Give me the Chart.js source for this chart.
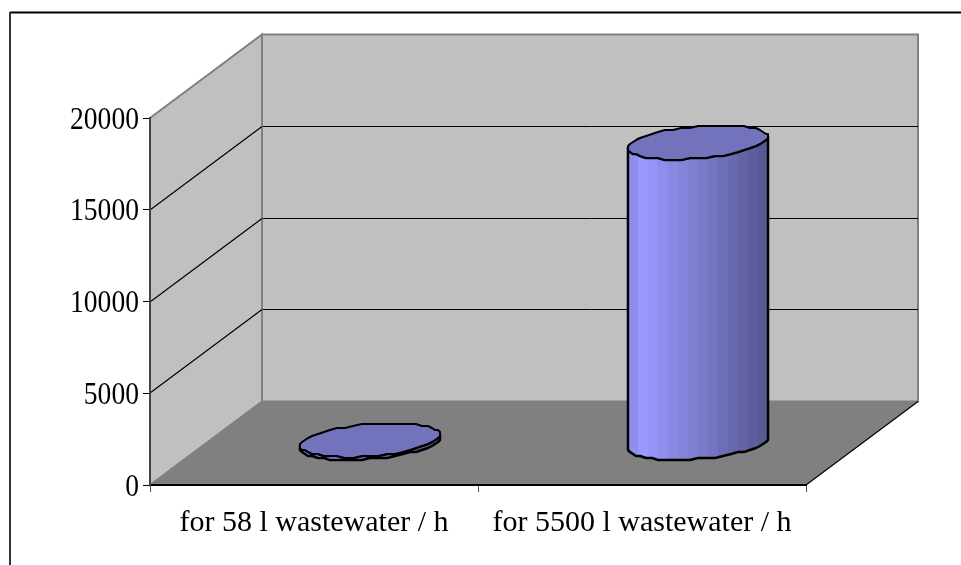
<!DOCTYPE html>
<html>
<head>
<meta charset="utf-8">
<style>
    html, body { margin: 0; padding: 0; background: #fff; }
    canvas { display: block; }
</style>
<script src="https://cdn.jsdelivr.net/npm/chart.js@4"></script>
</head>
<body>
<canvas id="chart" width="961" height="565"></canvas>
<script>
const categories = ['for 58 l wastewater / h', 'for 5500 l wastewater / h'];
const values = [173, 16400];
const yTicks = [0, 5000, 10000, 15000, 20000];

// how far the back wall sits behind the front plane
const depthX = 112;
const depthY = 83.5;

function polygon(ctx, points, fill, stroke, width) {
    ctx.beginPath();
    points.forEach(function (p, i) {
        if (i === 0) ctx.moveTo(p[0], p[1]); else ctx.lineTo(p[0], p[1]);
    });
    ctx.closePath();
    ctx.fillStyle = fill;
    ctx.fill();
    if (stroke) {
        ctx.strokeStyle = stroke;
        ctx.lineWidth = width;
        ctx.stroke();
    }
}

function segment(ctx, x1, y1, x2, y2, color, width) {
    ctx.beginPath();
    ctx.moveTo(x1, y1);
    ctx.lineTo(x2, y2);
    ctx.strokeStyle = color;
    ctx.lineWidth = width;
    ctx.stroke();
}

const walls = {
    id: 'walls',
    beforeDraw(chart) {
        const ctx = chart.ctx;
        const a = chart.chartArea;
        const y = chart.scales.y;
        ctx.save();
        ctx.lineJoin = 'miter';

        // page frame, only top and left are there
        segment(ctx, 10, 12.5, 961, 12.5, '#000', 2);
        segment(ctx, 10, 12, 10, 565, '#333', 2);

        polygon(ctx, [[a.left, a.top], [a.left + depthX, a.top - depthY], [a.left + depthX, a.bottom - depthY], [a.left, a.bottom]], '#c0c0c0', '#808080', 2);
        polygon(ctx, [[a.left + depthX, a.top - depthY], [a.right + depthX, a.top - depthY], [a.right + depthX, a.bottom - depthY], [a.left + depthX, a.bottom - depthY]], '#c0c0c0', '#808080', 2);
        polygon(ctx, [[a.left, a.bottom], [a.left + depthX, a.bottom - depthY], [a.right + depthX, a.bottom - depthY], [a.right, a.bottom]], '#808080');
        segment(ctx, a.right, a.bottom, a.right + depthX, a.bottom - depthY, '#000', 1.2);

        yTicks.slice(1, -1).forEach(function (v) {
            const py = Math.round(y.getPixelForValue(v));
            const backY = Math.floor(py - depthY) + 0.5;
            segment(ctx, a.left, py, a.left + depthX, backY, '#000', 1.2);
            segment(ctx, a.left + depthX + 1, backY, a.right + depthX, backY, '#000', 1);
        });
        ctx.restore();
    },
    afterLayout(chart) {
        // the reference's numbers are narrower than the font and sit a bit lower
        const y = chart.scales.y;
        if (y.drawLabelsPlain) return;
        y.drawLabelsPlain = y.drawLabels;
        y.drawLabels = function (area) {
            const ctx = chart.ctx;
            ctx.save();
            ctx.translate(139, 2.5);
            ctx.scale(0.89, 1);
            ctx.translate(-139, 0);
            y.drawLabelsPlain(area);
            ctx.restore();
        };
    }
};

function ring(cx, cy, rx, skewX, ry, from, to, steps) {
    // ellipse lying on the floor plane, coarse like the old renderer
    const pts = [];
    for (let i = 0; i <= steps; i++) {
        const t = from + (to - from) * i / steps;
        const px = cx + rx * Math.cos(t) + skewX * Math.sin(t);
        const py = cy - ry * Math.sin(t);
        if (i === 0 || i === steps) pts.push([px, py]);
        else pts.push([Math.round(px), Math.round(py / 2) * 2]);
    }
    return pts;
}

const cylinders = {
    id: 'cylinders',
    afterDatasetsDraw(chart) {
        const ctx = chart.ctx;
        const meta = chart.getDatasetMeta(0);
        ctx.save();
        ctx.lineJoin = 'round';
        meta.data.forEach(function (bar) {
            const half = bar.width / 2;
            const cx = bar.x + depthX / 2;
            const topY = bar.y - depthY / 2;
            const baseY = bar.base - depthY / 2;
            const ry = 17;
            const skewX = ry * depthX / depthY;
            const rx = Math.sqrt(half * half - skewX * skewX);
            const t0 = Math.atan2(skewX, rx);

            const topFront = ring(cx, topY, rx, skewX, ry, t0, t0 - Math.PI, 26);
            const baseFront = ring(cx, baseY, rx, skewX, ry, t0 - Math.PI, t0, 26);
            const topBack = ring(cx, topY, rx, skewX, ry, t0, t0 + Math.PI, 26);
            const side = topFront.concat(baseFront);

            // shaded side in vertical bands
            ctx.save();
            ctx.beginPath();
            side.forEach(function (p, i) {
                if (i === 0) ctx.moveTo(p[0], p[1]); else ctx.lineTo(p[0], p[1]);
            });
            ctx.closePath();
            ctx.clip();
            const left = cx - half;
            const bands = 14;
            const w = half * 2 / bands;
            for (let i = 0; i < bands; i++) {
                const k = i === 0 ? 0.93 : 1 - 0.42 * (i - 1) / (bands - 2);
                ctx.fillStyle = 'rgb(' + Math.round(153 * k) + ',' + Math.round(153 * k) + ',' + Math.round(255 * k) + ')';
                ctx.fillRect(left + i * w, topY - ry - 2, w + 1, baseY - topY + ry * 2 + 4);
            }
            ctx.restore();

            ctx.beginPath();
            side.forEach(function (p, i) {
                if (i === 0) ctx.moveTo(p[0], p[1]); else ctx.lineTo(p[0], p[1]);
            });
            ctx.closePath();
            ctx.strokeStyle = '#000';
            ctx.lineWidth = 2.5;
            ctx.stroke();

            polygon(ctx, topFront.concat(topBack.slice(1).reverse()), '#7272bd', '#000', 2);
        });
        ctx.restore();
    }
};

new Chart(document.getElementById('chart').getContext('2d'), {
    type: 'bar',
    data: {
        labels: categories,
        datasets: [
            {label: 'value', data: values, backgroundColor: 'rgba(0, 0, 0, 0)', borderWidth: 0, categoryPercentage: 1, barPercentage: 0.427},
        ]
    },
    options: {
        responsive: false,
        animation: false,
        layout: {padding: {top: 118, right: 155, left: 0, bottom: 0}},
        plugins: {legend: {display: false}, tooltip: {enabled: false}},
        scales: {
            x: {
                afterFit(scale) { scale.height = 80; },
                grid: {drawOnChartArea: false, tickLength: 7, tickColor: '#555'},
                border: {color: '#000', width: 2},
                ticks: {color: '#000', padding: 13, maxRotation: 0, autoSkip: false, font: {family: 'Liberation Serif', size: 30}},
            },
            y: {
                min: 0,
                max: 20000,
                afterFit(scale) { scale.width = 150; },
                afterBuildTicks(scale) { scale.ticks = yTicks.map(function (v) { return {value: v}; }); },
                grid: {drawOnChartArea: false, tickLength: 7, tickColor: '#000'},
                border: {color: '#444', width: 2},
                ticks: {color: '#000', padding: 4, font: {family: 'Liberation Serif', size: 31}, callback(v) { return String(v); }},
            },
        },
    },
    plugins: [walls, cylinders],
});
</script>
</body>
</html>
